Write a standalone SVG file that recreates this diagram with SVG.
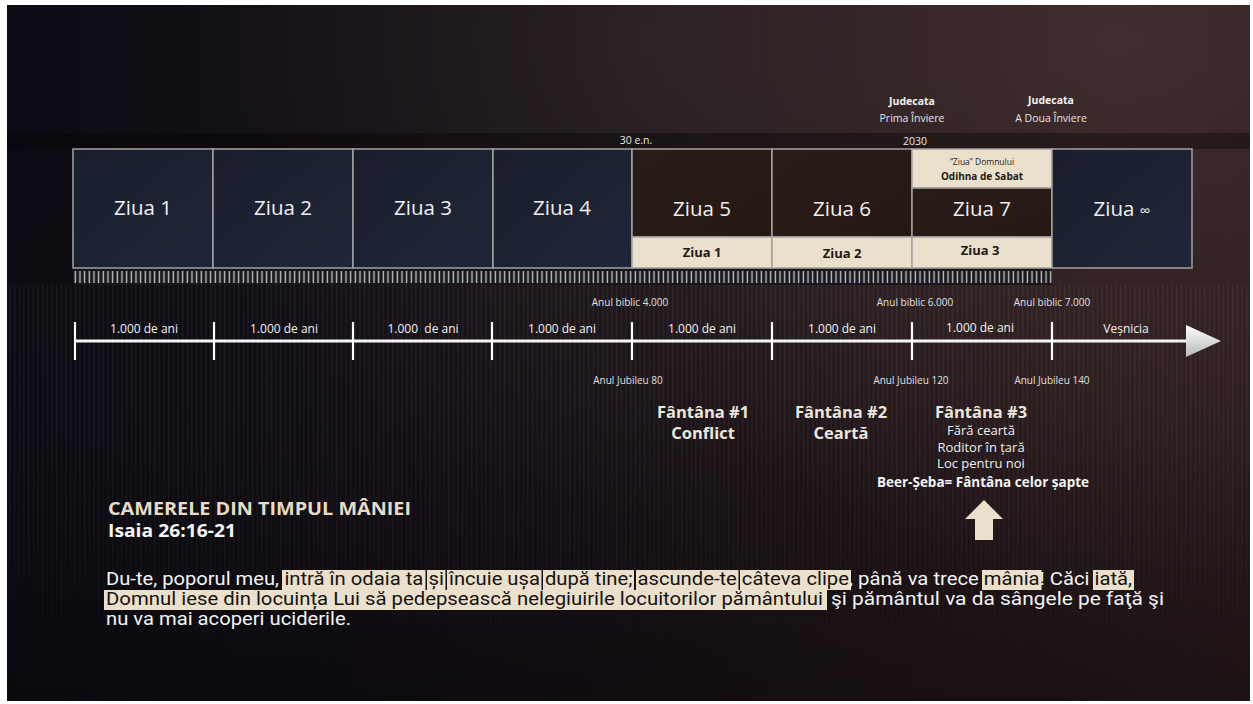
<svg xmlns="http://www.w3.org/2000/svg" width="1253" height="704" viewBox="0 0 1253 704">
<defs>
  <linearGradient id="bgH" x1="0" y1="0" x2="1" y2="0">
    <stop offset="0" stop-color="#0d0c14"/>
    <stop offset="0.45" stop-color="#171117"/>
    <stop offset="1" stop-color="#2a1a1c"/>
  </linearGradient>
  <radialGradient id="glowTR" cx="1120" cy="40" r="560" gradientUnits="userSpaceOnUse">
    <stop offset="0" stop-color="#4a3433" stop-opacity="0.75"/>
    <stop offset="1" stop-color="#4a3433" stop-opacity="0"/>
  </radialGradient>
  <radialGradient id="glowTC" cx="650" cy="40" r="480" gradientUnits="userSpaceOnUse">
    <stop offset="0" stop-color="#302729" stop-opacity="0.7"/>
    <stop offset="1" stop-color="#302729" stop-opacity="0"/>
  </radialGradient>
  <linearGradient id="bgV" x1="0" y1="0" x2="0" y2="1">
    <stop offset="0" stop-color="#000" stop-opacity="0"/>
    <stop offset="0.6" stop-color="#000" stop-opacity="0.05"/>
    <stop offset="1" stop-color="#000" stop-opacity="0.3"/>
  </linearGradient>
  <linearGradient id="fadeDown" x1="0" y1="285" x2="0" y2="690" gradientUnits="userSpaceOnUse">
    <stop offset="0" stop-color="#fff" stop-opacity="1"/>
    <stop offset="0.6" stop-color="#fff" stop-opacity="0.8"/>
    <stop offset="1" stop-color="#fff" stop-opacity="0"/>
  </linearGradient>
  <mask id="stripeMask" maskUnits="userSpaceOnUse" x="0" y="285" width="1253" height="419">
    <rect x="0" y="285" width="1253" height="419" fill="url(#fadeDown)"/>
  </mask>
  <linearGradient id="navy" x1="0" y1="0" x2="1" y2="1">
    <stop offset="0" stop-color="#1a1e2c"/>
    <stop offset="1" stop-color="#20263a"/>
  </linearGradient>
  <linearGradient id="brown" x1="0" y1="0" x2="1" y2="1">
    <stop offset="0" stop-color="#2a1c18"/>
    <stop offset="1" stop-color="#261914"/>
  </linearGradient>
  <linearGradient id="arrowHead" x1="0" y1="0" x2="0" y2="1">
    <stop offset="0" stop-color="#ffffff"/>
    <stop offset="1" stop-color="#b8b8b8"/>
  </linearGradient>
  <pattern id="ticks" x="73" y="269" width="4.667" height="16" patternUnits="userSpaceOnUse">
    <rect x="1.6" y="2" width="1.4" height="12" fill="#c4c4c4"/>
  </pattern>
  <pattern id="stripes" x="0" y="0" width="4.667" height="10" patternUnits="userSpaceOnUse">
    <rect x="0" y="0" width="1.2" height="10" fill="#ffffff" fill-opacity="0.06"/>
  </pattern>
  <style>
    text { font-family: "Open Sans", "Noto Sans", "Liberation Sans", sans-serif; }
    .big { font-size: 20.5px; fill: #f0f0f0; text-anchor: middle; }
    .band { font-size: 13px; font-weight: bold; fill: #1e1a16; text-anchor: middle; }
    .small { font-size: 10.5px; fill: #e6e6e6; text-anchor: middle; }
    .yrs { font-size: 12px; fill: #f2f2f2; text-anchor: middle; }
    .lbl { font-size: 10px; fill: #e0e0e0; text-anchor: middle; }
    .top-b { font-size: 10.5px; font-weight: bold; fill: #f2f2f2; text-anchor: middle; }
    .well { font-size: 16.5px; font-weight: bold; fill: #ece6dc; text-anchor: middle; }
    .wsub { font-size: 13px; fill: #f0f0f0; text-anchor: middle; }
    .box { stroke: #a3a3a3; stroke-width: 1.5; }
    .hl { fill: #ebe0cc; }
    .p { font-family: Roboto, "Liberation Sans", sans-serif; font-size: 18.5px; fill: #f4f4f4; }
    .pd { font-family: Roboto, "Liberation Sans", sans-serif; font-size: 18.5px; fill: #141210; }
    .tick { stroke: #ffffff; stroke-width: 2.2; }
  </style>
</defs>

<rect x="0" y="0" width="1253" height="704" fill="#ffffff"/>
<g id="background">
  <rect x="7" y="5" width="1243" height="696" fill="url(#bgH)"/>
  <rect x="7" y="5" width="1243" height="696" fill="url(#glowTC)"/>
  <rect x="7" y="5" width="1243" height="696" fill="url(#glowTR)"/>
  <rect x="7" y="285" width="1243" height="416" fill="url(#stripes)" mask="url(#stripeMask)"/>
  <rect x="7" y="5" width="1243" height="696" fill="url(#bgV)"/>
  <rect x="7" y="133" width="1243" height="16" fill="#000000" fill-opacity="0.35"/>
</g>

<g id="top-labels">
  <text class="small" x="636" y="144">30 e.n.</text>
  <text class="small" x="915" y="145">2030</text>
  <text class="top-b" x="912" y="105">Judecata</text>
  <text class="small" x="912" y="122">Prima Înviere</text>
  <text class="top-b" x="1051" y="104">Judecata</text>
  <text class="small" x="1051" y="122">A Doua Înviere</text>
</g>

<g id="day1"><rect class="box" x="73" y="149" width="140" height="119" fill="url(#navy)"/><text class="big" x="143" y="215">Ziua 1</text></g>
<g id="day2"><rect class="box" x="213" y="149" width="140" height="119" fill="url(#navy)"/><text class="big" x="283" y="215">Ziua 2</text></g>
<g id="day3"><rect class="box" x="353" y="149" width="140" height="119" fill="url(#navy)"/><text class="big" x="423" y="215">Ziua 3</text></g>
<g id="day4"><rect class="box" x="493" y="149" width="139" height="119" fill="url(#navy)"/><text class="big" x="562" y="215">Ziua 4</text></g>
<g id="day5">
  <rect class="box" x="632" y="149" width="140" height="88" fill="url(#brown)"/>
  <rect class="box" x="632" y="237" width="140" height="31" fill="#ebe0cc"/>
  <text class="big" x="702" y="216">Ziua 5</text>
  <text class="band" x="702" y="257">Ziua 1</text>
</g>
<g id="day6">
  <rect class="box" x="772" y="149" width="140" height="88" fill="url(#brown)"/>
  <rect class="box" x="772" y="237" width="140" height="31" fill="#ebe0cc"/>
  <text class="big" x="842" y="216">Ziua 6</text>
  <text class="band" x="842" y="258">Ziua 2</text>
</g>
<g id="day7">
  <rect class="box" x="912" y="149" width="140" height="39" fill="#ebe0cc"/>
  <rect class="box" x="912" y="188" width="140" height="49" fill="url(#brown)"/>
  <rect class="box" x="912" y="237" width="140" height="31" fill="#ebe0cc"/>
  <text x="982" y="165" style="font-size:8.5px;fill:#2a2420;text-anchor:middle">“Ziua” Domnului</text>
  <text x="982" y="180" style="font-size:10px;font-weight:bold;fill:#1e1a16;text-anchor:middle">Odihna de Sabat</text>
  <text class="big" x="982" y="216">Ziua 7</text>
  <text class="band" x="980" y="255">Ziua 3</text>
</g>
<g id="day-infinity">
  <rect class="box" x="1052" y="149" width="140" height="119" fill="url(#navy)"/>
  <text class="big" x="1122" y="216">Ziua <tspan style="font-size:15px">∞</tspan></text>
</g>

<g id="ruler">
  <rect x="73" y="269" width="979" height="16" fill="#17161d"/>
  <rect x="73" y="269" width="979" height="16" fill="url(#ticks)"/>
</g>

<g id="connectors">
  <line x1="75" y1="341" x2="1190" y2="341" stroke="#f4f4f4" stroke-width="3"/>
  <polygon points="1186,325 1221,341 1186,357" fill="url(#arrowHead)"/>
  <line class="tick" x1="75" y1="322" x2="75" y2="360"/>
  <line class="tick" x1="214" y1="322" x2="214" y2="360"/>
  <line class="tick" x1="353" y1="322" x2="353" y2="360"/>
  <line class="tick" x1="492" y1="322" x2="492" y2="360"/>
  <line class="tick" x1="632" y1="322" x2="632" y2="360"/>
  <line class="tick" x1="772" y1="322" x2="772" y2="360"/>
  <line class="tick" x1="912" y1="322" x2="912" y2="360"/>
  <line class="tick" x1="1052" y1="322" x2="1052" y2="360"/>
  <polygon points="984,500 1003,519 993,519 993,540 975,540 975,519 965,519" fill="#ebe0cc"/>
</g>

<g id="timeline-labels">
  <text class="yrs" x="144" y="333">1.000 de ani</text>
  <text class="yrs" x="284" y="333">1.000 de ani</text>
  <text class="yrs" x="423" y="333" xml:space="preserve">1.000  de ani</text>
  <text class="yrs" x="562" y="333">1.000 de ani</text>
  <text class="yrs" x="702" y="333">1.000 de ani</text>
  <text class="yrs" x="842" y="333">1.000 de ani</text>
  <text class="yrs" x="980" y="332">1.000 de ani</text>
  <text class="yrs" x="1126" y="333">Veșnicia</text>
  <text class="lbl" x="630" y="306">Anul biblic 4.000</text>
  <text class="lbl" x="915" y="306">Anul biblic 6.000</text>
  <text class="lbl" x="1052" y="306">Anul biblic 7.000</text>
  <text class="lbl" x="628" y="384">Anul Jubileu 80</text>
  <text class="lbl" x="911" y="384">Anul Jubileu 120</text>
  <text class="lbl" x="1052" y="384">Anul Jubileu 140</text>
</g>

<g id="well1">
  <text class="well" x="703" y="418">Fântâna #1</text>
  <text class="well" x="703" y="439">Conflict</text>
</g>
<g id="well2">
  <text class="well" x="841" y="418">Fântâna #2</text>
  <text class="well" x="841" y="439">Ceartă</text>
</g>
<g id="well3">
  <text class="well" x="981" y="418">Fântâna #3</text>
  <text class="wsub" x="981" y="435">Fără ceartă</text>
  <text class="wsub" x="981" y="452">Roditor în țară</text>
  <text class="wsub" x="981" y="468">Loc pentru noi</text>
  <text x="983" y="487" style="font-size:13.5px;font-weight:bold;fill:#f4f4f4;text-anchor:middle">Beer-Șeba= Fântâna celor șapte</text>
</g>

<g id="title">
  <text x="108" y="515" style="font-size:17px;font-weight:bold;fill:#e8dcc6" textLength="303" lengthAdjust="spacingAndGlyphs">CAMERELE DIN TIMPUL MÂNIEI</text>
  <text x="108" y="537" style="font-size:17.5px;font-weight:bold;fill:#f6f6f6" textLength="128" lengthAdjust="spacingAndGlyphs">Isaia 26:16-21</text>
</g>

<g id="passage">
  <rect class="hl" x="282" y="570" width="143.5" height="20"/>
  <rect class="hl" x="427" y="570" width="18.5" height="20"/>
  <rect class="hl" x="447" y="570" width="94.5" height="20"/>
  <rect class="hl" x="543" y="570" width="91" height="20"/>
  <rect class="hl" x="636" y="570" width="102.5" height="20"/>
  <rect class="hl" x="740" y="570" width="111" height="20"/>
  <rect class="hl" x="982" y="570" width="59.5" height="20"/>
  <rect class="hl" x="1093" y="570" width="41" height="20"/>
  <rect class="hl" x="104" y="590" width="723" height="20"/>

  <text class="p" x="106" y="585" textLength="173" lengthAdjust="spacingAndGlyphs">Du-te, poporul meu,</text>
  <text class="pd" x="284.4" y="585" textLength="139" lengthAdjust="spacingAndGlyphs">intră în odaia ta</text>
  <text class="pd" x="428.5" y="585" textLength="15.4" lengthAdjust="spacingAndGlyphs">și</text>
  <text class="pd" x="448.9" y="585" textLength="91" lengthAdjust="spacingAndGlyphs">încuie ușa</text>
  <text class="pd" x="544.9" y="585" textLength="87.6" lengthAdjust="spacingAndGlyphs">după tine;</text>
  <text class="pd" x="637.5" y="585" textLength="99.3" lengthAdjust="spacingAndGlyphs">ascunde-te</text>
  <text class="pd" x="741.8" y="585" textLength="107.2" lengthAdjust="spacingAndGlyphs">câteva clipe</text>
  <text class="p" x="849" y="585" textLength="129.8" lengthAdjust="spacingAndGlyphs">, până va trece</text>
  <text class="pd" x="983.8" y="585" textLength="55.8" lengthAdjust="spacingAndGlyphs">mânia</text>
  <text class="p" x="1039.6" y="585" textLength="49.9" lengthAdjust="spacingAndGlyphs">! Căci</text>
  <text class="pd" x="1094.5" y="585" textLength="37.5" lengthAdjust="spacingAndGlyphs">iată,</text>

  <text class="pd" x="106" y="605" textLength="717" lengthAdjust="spacingAndGlyphs">Domnul iese din locuința Lui să pedepsească nelegiuirile locuitorilor pământului</text>
  <text class="p" x="831" y="605" textLength="333" lengthAdjust="spacingAndGlyphs">şi pământul va da sângele pe faţă şi</text>
  <text class="p" x="106" y="625" textLength="245" lengthAdjust="spacingAndGlyphs">nu va mai acoperi uciderile.</text>
</g>
</svg>
